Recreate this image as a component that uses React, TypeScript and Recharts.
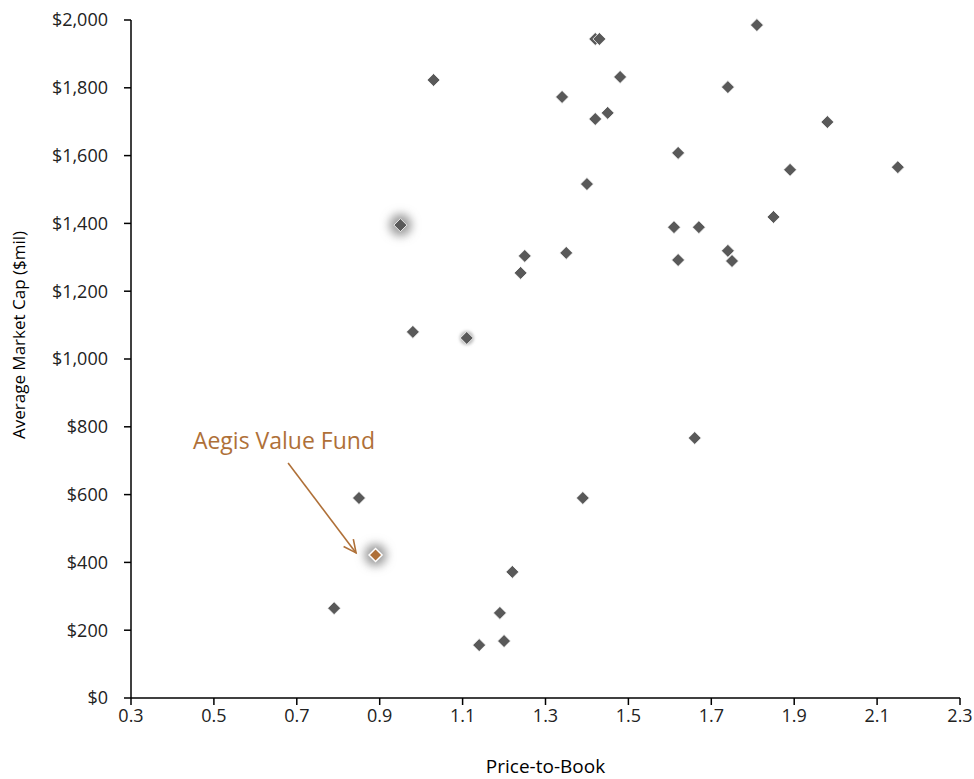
import {
  ScatterChart,
  Scatter,
  XAxis,
  YAxis,
  ReferenceLine,
  ReferenceDot,
} from "recharts";

// Price-to-Book and average market cap ($mil) for each fund
const priceToBook = [
  1.03, 0.95, 0.98, 1.11, 0.85, 0.89, 0.79, 1.14, 1.2, 1.19, 1.22, 1.24,
  1.25, 1.35, 1.34, 1.4, 1.39, 1.42, 1.43, 1.42, 1.45, 1.48, 1.62, 1.61,
  1.62, 1.67, 1.66, 1.74, 1.74, 1.75, 1.81, 1.85, 1.89, 1.98, 2.15,
];
const marketCap = [
  1823, 1395, 1080, 1062, 590, 422, 265, 156, 168, 251, 372, 1254,
  1304, 1313, 1773, 1516, 590, 1944, 1944, 1708, 1726, 1832, 1608, 1389,
  1292, 1389, 767, 1802, 1319, 1289, 1985, 1419, 1558, 1699, 1566,
];
// 0 = normal, 1 = soft glow, 2 = strong glow, 3 = Aegis (highlighted)
const pointStyle = [
  0, 2, 0, 1, 0, 3, 0, 0, 0, 0, 0, 0,
  0, 0, 0, 0, 0, 0, 0, 0, 0, 0, 0, 0,
  0, 0, 0, 0, 0, 0, 0, 0, 0, 0, 0,
];

const xTicks = [0.3, 0.5, 0.7, 0.9, 1.1, 1.3, 1.5, 1.7, 1.9, 2.1, 2.3];
const yTicks = [0, 200, 400, 600, 800, 1000, 1200, 1400, 1600, 1800, 2000];

const annotationText = "Aegis Value Fund";
const annotationPos = { x: 0.669, y: 760 };
const arrowStart = { x: 0.679, y: 693 };
const arrowEnd = { x: 0.843, y: 428 };

const data = priceToBook.map((x, i) => ({ x, y: marketCap[i], style: pointStyle[i] }));

const FONT = "'Open Sans', 'Noto Sans', sans-serif";
const ACCENT = "#AF7038";

const Diamond = (props: any) => {
  const { cx, cy, payload, index } = props;
  const s = 6.5;
  const kind = payload.style;
  const fill = kind === 3 ? ACCENT : "#595959";
  const id = `glow-${index}`;
  return (
    <g>
      {kind > 0 && (
        <>
          <defs>
            <filter id={id} x="-200%" y="-200%" width="500%" height="500%">
              <feGaussianBlur stdDeviation={kind === 1 ? 1.5 : 5} />
            </filter>
          </defs>
          <circle
            cx={cx}
            cy={cy}
            r={kind === 1 ? 7 : 11}
            fill={kind === 1 ? "#bbbbbb" : "#9a9a9a"}
            filter={`url(#${id})`}
          />
        </>
      )}
      <path
        d={`M${cx},${cy - s} L${cx + s},${cy} L${cx},${cy + s} L${cx - s},${cy} Z`}
        fill={fill}
        stroke="#ffffff"
        strokeWidth={kind === 3 ? 1.5 : 0.8}
      />
    </g>
  );
};

const Arrow = (props: any) => {
  const { x1, y1, x2, y2 } = props;
  if (x1 == null) return null;
  const ang = Math.atan2(y2 - y1, x2 - x1);
  const len = 14;
  const spread = 0.45;
  const ax = x2 - len * Math.cos(ang - spread);
  const ay = y2 - len * Math.sin(ang - spread);
  const bx = x2 - len * Math.cos(ang + spread);
  const by = y2 - len * Math.sin(ang + spread);
  return (
    <g stroke={ACCENT} strokeWidth={1.6} fill="none">
      <line x1={x1} y1={y1} x2={x2} y2={y2} />
      <polyline points={`${ax},${ay} ${x2},${y2} ${bx},${by}`} />
    </g>
  );
};

const Label = (props: any) => {
  const { cx, cy } = props;
  return (
    <text
      x={cx}
      y={cy}
      textAnchor="middle"
      dominantBaseline="central"
      fill={ACCENT}
      fontSize={23}
      fontFamily={FONT}
    >
      {annotationText}
    </text>
  );
};

const XTitle = ({ viewBox }: any) => (
  <text
    x={viewBox.x + viewBox.width / 2}
    y={viewBox.y + 68}
    textAnchor="middle"
    dominantBaseline="central"
    fill="#000"
    fontSize={19}
    fontFamily={FONT}
  >
    Price-to-Book
  </text>
);

const YTitle = ({ viewBox }: any) => {
  const cx = 18;
  const cy = viewBox.y + viewBox.height / 2 - 24;
  return (
    <text
      x={cx}
      y={cy}
      transform={`rotate(-90 ${cx} ${cy})`}
      textAnchor="middle"
      dominantBaseline="central"
      fill="#000"
      fontSize={17}
      fontFamily={FONT}
    >
      Average Market Cap ($mil)
    </text>
  );
};

export default function App() {
  return (
    <div style={{ position: "absolute", left: 0, top: 0, background: "#fff" }}>
      <ScatterChart
        width={974}
        height={779}
        margin={{ top: 20, right: 14, bottom: 0, left: 0 }}
      >
        <XAxis
          type="number"
          dataKey="x"
          domain={[0.3, 2.3]}
          ticks={xTicks}
          tickFormatter={(v: number) => v.toFixed(1)}
          height={81}
          stroke="#000"
          strokeWidth={1.5}
          tickSize={7}
          tickMargin={4}
          tick={{ fill: "#222", fontSize: 18, fontFamily: FONT }}
          label={<XTitle />}
        />
        <YAxis
          type="number"
          dataKey="y"
          domain={[0, 2000]}
          ticks={yTicks}
          tickFormatter={(v: number) => `$${v.toLocaleString("en-US")}`}
          width={131}
          stroke="#000"
          strokeWidth={1.5}
          tickSize={7}
          tickMargin={16}
          tick={{ fill: "#222", fontSize: 18, fontFamily: FONT }}
          label={<YTitle />}
        />
        <ReferenceLine
          segment={[arrowStart, arrowEnd]}
          shape={<Arrow />}
          ifOverflow="visible"
        />
        <ReferenceDot
          x={annotationPos.x}
          y={annotationPos.y}
          r={0}
          shape={<Label />}
          ifOverflow="visible"
        />
        <Scatter data={data} shape={<Diamond />} isAnimationActive={false} />
      </ScatterChart>
    </div>
  );
}
